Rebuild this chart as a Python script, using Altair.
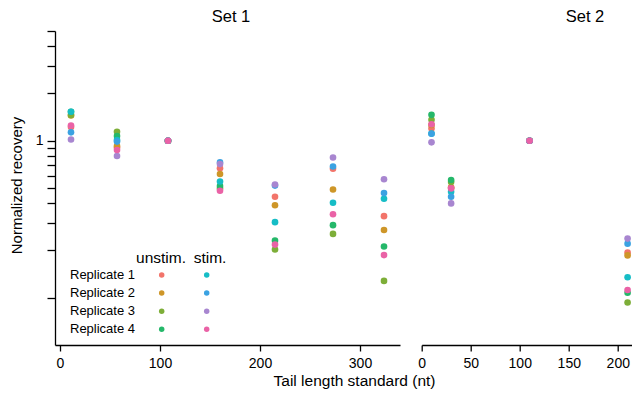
import altair as alt
import pandas as pd

FONT = "Liberation Sans"

series = ["unstim. Replicate 1", "unstim. Replicate 2", "unstim. Replicate 3", "unstim. Replicate 4",
          "stim. Replicate 1", "stim. Replicate 2", "stim. Replicate 3", "stim. Replicate 4"]
colors = ["#F2746A", "#CE9628", "#7DAE38", "#25B86A", "#16BDC6", "#3BA2E2", "#A886D0", "#EA62A6"]
conditions = ["unstim.", "stim."]
replicates = ["Replicate 1", "Replicate 2", "Replicate 3", "Replicate 4"]
panel_titles = ["Set 1", "Set 2"]

# Set 1
set1_tail = [11, 57, 108, 160, 215, 273, 324]
set1_unstim_r1 = [1.223, 0.905, 1.0, 0.667, 0.440, 0.663, 0.331]
set1_unstim_r2 = [1.447, 0.925, 1.0, 0.614, 0.388, 0.489, 0.270]
set1_unstim_r3 = [1.458, 1.141, 1.0, 0.496, 0.203, 0.255, 0.128]
set1_unstim_r4 = [1.530, 1.071, 1.0, 0.515, 0.231, 0.290, 0.212]
set1_stim_r1 = [1.530, 1.010, 1.0, 0.550, 0.303, 0.403, 0.427]
set1_stim_r2 = [1.131, 0.988, 1.0, 0.728, 0.518, 0.685, 0.464]
set1_stim_r3 = [1.018, 0.799, 1.0, 0.710, 0.526, 0.782, 0.568]
set1_stim_r4 = [1.250, 0.873, 1.0, 0.480, 0.218, 0.340, 0.187]

# Set 2
set2_tail = [10, 30, 110, 210]
set2_unstim_r1 = [1.196, 0.505, 1.0, 0.194]
set2_unstim_r2 = [1.260, 0.500, 1.0, 0.186]
set2_unstim_r3 = [1.361, 0.546, 1.0, 0.0932]
set2_unstim_r4 = [1.462, 0.562, 1.0, 0.1076]
set2_stim_r1 = [1.110, 0.473, 1.0, 0.135]
set2_stim_r2 = [1.108, 0.440, 1.0, 0.221]
set2_stim_r3 = [0.977, 0.399, 1.0, 0.238]
set2_stim_r4 = [1.274, 0.497, 1.0, 0.112]

set1_vals = [set1_unstim_r1, set1_unstim_r2, set1_unstim_r3, set1_unstim_r4,
             set1_stim_r1, set1_stim_r2, set1_stim_r3, set1_stim_r4]
set2_vals = [set2_unstim_r1, set2_unstim_r2, set2_unstim_r3, set2_unstim_r4,
             set2_stim_r1, set2_stim_r2, set2_stim_r3, set2_stim_r4]

y_ticks = [0.1, 0.2, 0.3, 0.4, 0.5, 0.6, 0.7, 0.8, 0.9, 1, 2, 3, 4, 5]


def build(tails, vals):
    rows = []
    for s, v in zip(series, vals):
        for t, y in zip(tails, v):
            rows.append({"tail": t, "recovery": y, "series": s})
    return pd.DataFrame(rows)


df1 = build(set1_tail, set1_vals)
df2 = build(set2_tail, set2_vals)

leg_rows = []
for c in conditions:
    for r in replicates:
        leg_rows.append({"cond": c, "rep": r, "series": f"{c} {r}"})
leg_df = pd.DataFrame(leg_rows)

color = alt.Color("series:N", scale=alt.Scale(domain=series, range=colors), legend=None)
y_scale = alt.Scale(type="log", domain=[0.05, 5], nice=False)

axis_common = dict(grid=False, domainColor="black", tickColor="black", domainWidth=1.3,
                   tickWidth=1.3, labelColor="black", labelFlush=False,
                   labelOverlap=False, titleColor="black", titleFontWeight="normal")

y_axis = alt.Axis(values=y_ticks, labelExpr="datum.value == 1 ? '1' : ''",
                  labelFontSize={"condition": {"test": "datum.value == 1", "value": 14}, "value": 0},
                  tickSize=8, labelPadding=4, title="Normalized recovery", titleFontSize=15,
                  titleX=-34, titleY=154, titleAngle=270, titleAlign="center",
                  titleBaseline="alphabetic", **axis_common)

x_axis1 = alt.Axis(values=[0, 100, 200, 300], tickSize=6, labelPadding=5, labelFontSize=14,
                   title="Tail length standard (nt)", titleFontSize=15.5,
                   titleX=299, titleY=40, titleAlign="center", titleBaseline="alphabetic",
                   **axis_common)
x_axis2 = alt.Axis(values=[0, 50, 100, 150, 200], tickSize=6, labelPadding=5, labelFontSize=14,
                   title=None, **axis_common)

pts1 = alt.Chart(df1).mark_circle(size=44, opacity=1).encode(
    x=alt.X("tail:Q", scale=alt.Scale(domain=[-5, 340], nice=False, zero=False), axis=x_axis1),
    y=alt.Y("recovery:Q", scale=y_scale, axis=y_axis),
    color=color,
)

title1 = alt.Chart(pd.DataFrame({"t": [panel_titles[0]]})).mark_text(
    fontSize=16.5, baseline="middle", align="center", color="black").encode(
    x=alt.value(176), y=alt.value(-14), text="t:N")
title2 = alt.Chart(pd.DataFrame({"t": [panel_titles[1]]})).mark_text(
    fontSize=16.5, baseline="middle", align="center", color="black").encode(
    x=alt.value(163.3), y=alt.value(-14), text="t:N")

leg_x = alt.Scale(domain=conditions, range=[106.7, 151.7], padding=0)
leg_y = alt.Scale(domain=replicates, range=[244, 298.3], padding=0)

leg_pts = alt.Chart(leg_df).mark_circle(size=30, opacity=1).encode(
    x=alt.X("cond:N", scale=leg_x, axis=None),
    y=alt.Y("rep:N", scale=leg_y, axis=None),
    color=color,
)
leg_labels = alt.Chart(leg_df).transform_filter(alt.datum.cond == "unstim.").mark_text(
    align="left", baseline="middle", fontSize=13, color="black").encode(
    x=alt.value(15),
    y=alt.Y("rep:N", scale=leg_y, axis=None),
    text="rep:N",
)
leg_head1 = alt.Chart(leg_df).transform_filter(
    (alt.datum.cond == "unstim.") & (alt.datum.rep == "Replicate 1")).mark_text(
    align="center", baseline="middle", fontSize=15.5, color="black", dx=-0.7).encode(
    x=alt.X("cond:N", scale=leg_x, axis=None),
    y=alt.value(227.3),
    text="cond:N",
)
leg_head2 = alt.Chart(leg_df).transform_filter(
    (alt.datum.cond == "stim.") & (alt.datum.rep == "Replicate 1")).mark_text(
    align="center", baseline="middle", fontSize=15.5, color="black", dx=3.3).encode(
    x=alt.X("cond:N", scale=leg_x, axis=None),
    y=alt.value(227.3),
    text="cond:N",
)
legend = alt.layer(leg_pts, leg_labels, leg_head1, leg_head2)

panel1 = alt.layer(pts1, title1, legend).resolve_scale(
    x="independent", y="independent").properties(width=345, height=314)

pts2 = alt.Chart(df2).mark_circle(size=44, opacity=1).encode(
    x=alt.X("tail:Q", scale=alt.Scale(domain=[0, 214.5], nice=False, zero=False), axis=x_axis2),
    y=alt.Y("recovery:Q", scale=y_scale, axis=None),
    color=color,
)
panel2 = alt.layer(pts2, title2).properties(width=210.3, height=314)

chart = alt.hconcat(panel1, panel2, spacing=21.7, bounds="flush").resolve_scale(
    color="shared"
).properties(
    padding={"left": 1, "top": 1, "right": 0, "bottom": 0},
    background="white",
).configure(font=FONT).configure_view(stroke=None)

chart.save("out.html", embed_options={"renderer": "svg", "actions": False})
